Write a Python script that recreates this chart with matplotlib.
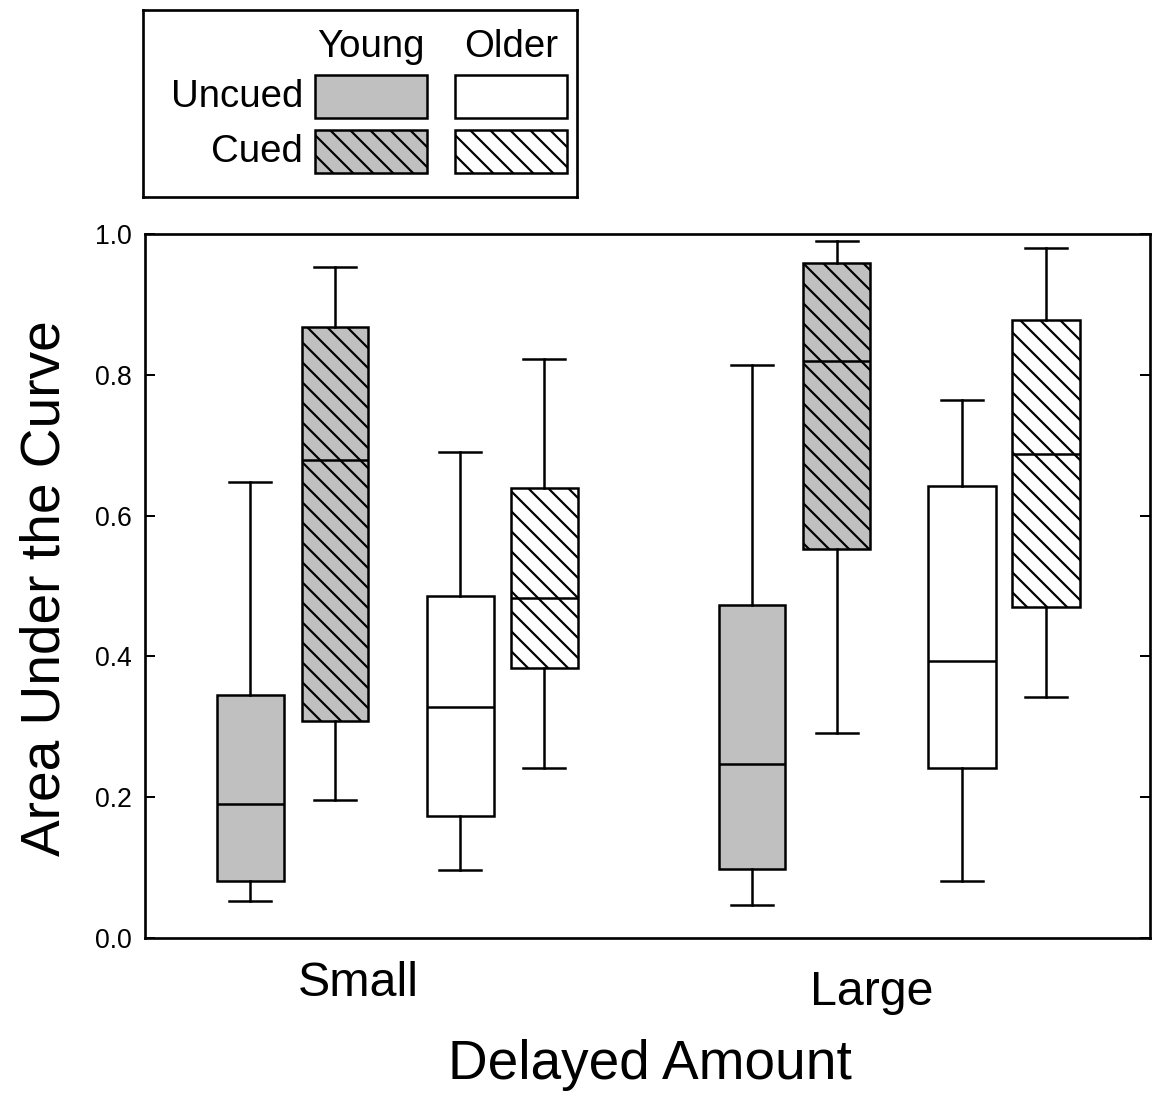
import matplotlib
matplotlib.use('Agg')
import matplotlib.pyplot as plt
from matplotlib.patches import Rectangle

# data
groups = ['Small', 'Large']
conditions = ['Young Uncued', 'Young Cued', 'Older Uncued', 'Older Cued']
# per group, per condition: whislo, q1, median, q3, whishi
whislo = [[0.053, 0.196, 0.097, 0.241], [0.047, 0.291, 0.081, 0.342]]
q1 = [[0.081, 0.308, 0.173, 0.384], [0.098, 0.553, 0.241, 0.470]]
med = [[0.190, 0.679, 0.328, 0.483], [0.247, 0.820, 0.393, 0.688]]
q3 = [[0.345, 0.868, 0.486, 0.639], [0.473, 0.959, 0.642, 0.878]]
whishi = [[0.648, 0.953, 0.690, 0.822], [0.814, 0.990, 0.764, 0.980]]
yticks = [0.0, 0.2, 0.4, 0.6, 0.8, 1.0]

GRAY = '#c0c0c0'
faces = [GRAY, GRAY, 'white', 'white']
hatches = ['', '\\\\', '', '\\\\']

plt.rcParams['font.family'] = ['Liberation Sans', 'DejaVu Sans']
plt.rcParams['hatch.linewidth'] = 1.3
plt.rcParams['hatch.color'] = 'black'

DPI = 120
fig = plt.figure(figsize=(1152 / DPI, 1096 / DPI), dpi=DPI)
ax = fig.add_axes([145 / 1152, 158 / 1096, 1005 / 1152, 704 / 1096])

group_start = [1.05, 6.07]
offsets = [0, 0.85, 2.10, 2.94]
stats, positions, fc, hc = [], [], [], []
for g in range(len(groups)):
    for c in range(len(conditions)):
        stats.append(dict(label=conditions[c], whislo=whislo[g][c], q1=q1[g][c], med=med[g][c],
                          q3=q3[g][c], whishi=whishi[g][c], fliers=[]))
        positions.append(group_start[g] + offsets[c])
        fc.append(faces[c])
        hc.append(hatches[c])

lw = 1.5
bp = ax.bxp(stats, positions=positions, widths=0.67, patch_artist=True, showfliers=False,
            boxprops=dict(linewidth=lw, edgecolor='black'),
            medianprops=dict(color='black', linewidth=lw),
            whiskerprops=dict(color='black', linewidth=lw),
            capprops=dict(color='black', linewidth=lw), capwidths=0.42)
for box, f, h in zip(bp['boxes'], fc, hc):
    box.set_facecolor(f)
    box.set_hatch(h)

ax.set_xlim(0, 10.05)
ax.set_ylim(0, 1.0)
ax.set_xticks([])
ax.set_yticks(yticks)
ax.set_yticklabels([f'{t:.1f}' for t in yticks], fontsize=16)
ax.tick_params(axis='y', direction='in', length=6, width=1.2, right=True, pad=8)
for s in ax.spines.values():
    s.set_linewidth(1.6)

ax.set_ylabel('Area Under the Curve', fontsize=33)
ax.yaxis.set_label_coords(-0.073, 0.497)

label_x = [2.13, 7.27]
label_y = [-0.064, -0.078]
for name, lx, ly in zip(groups, label_x, label_y):
    ax.text(lx, ly, name, transform=ax.get_xaxis_transform(), ha='center', va='center', fontsize=29)
ax.text(5.05, -0.180, 'Delayed Amount', transform=ax.get_xaxis_transform(),
        ha='center', va='center', fontsize=33)

# legend box drawn by hand
lax = fig.add_axes([143 / 1152, (1096 - 197) / 1096, 434 / 1152, 187 / 1096])
lax.set_xlim(0, 434)
lax.set_ylim(187, 0)
lax.set_xticks([])
lax.set_yticks([])
for s in lax.spines.values():
    s.set_linewidth(1.6)
cols = [172, 312]
rows = [65, 120]
for r, row_name in enumerate(['Uncued', 'Cued']):
    lax.text(160, rows[r] + 22, row_name, ha='right', va='center', fontsize=23)
    for c, col_name in enumerate(['Young', 'Older']):
        k = r + 2 * c
        lax.add_patch(Rectangle((cols[c], rows[r]), 112, 43, facecolor=faces[k],
                                hatch=hatches[k], edgecolor='black', linewidth=lw))
for c, col_name in enumerate(['Young', 'Older']):
    lax.text(cols[c] + 56, 37, col_name, ha='center', va='center', fontsize=23)

fig.savefig('out.png', dpi=DPI)
